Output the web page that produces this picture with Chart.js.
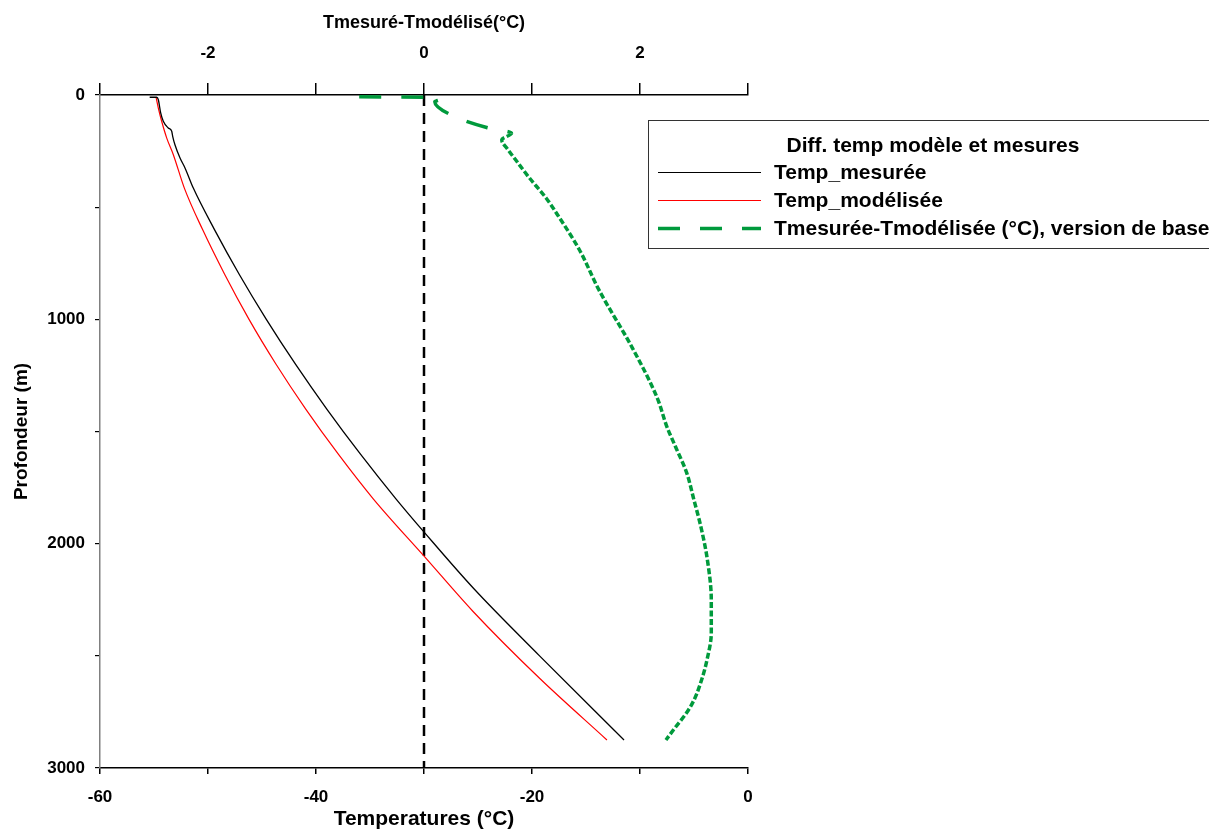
<!DOCTYPE html>
<html>
<head>
<meta charset="utf-8">
<title>Diff. temp modèle et mesures</title>
<script src="https://cdn.jsdelivr.net/npm/chart.js@4.4.1/dist/chart.umd.min.js"></script>
<style>
  html, body { margin: 0; padding: 0; background: #fff; }
  #chart1 { display: block; }
</style>
</head>
<body>
<canvas id="chart1" width="1209" height="829"></canvas>
<script>
//Temp_mesurée (depth in m, temperature in °C)
const depthMes = [10, 10, 21, 80, 117, 147, 162, 184, 222, 281, 325, 415, 600, 800, 1000, 1200, 1400, 1600, 1800, 1953, 2200, 2500, 2875]
const tempMes = [-55.4, -54.75, -54.6, -54.38, -54.14, -53.68, -53.36, -53.27, -53.06, -52.59, -52.13, -51.36, -49.4, -47.1, -44.6, -41.9, -39.0, -35.9, -32.6, -29.91, -25.4, -19.3, -11.48]

//Temp_modélisée
const depthMod = [10, 58, 117, 192, 266, 415, 600, 800, 1000, 1200, 1400, 1600, 1800, 2060, 2300, 2600, 2875]
const tempMod = [-54.81, -54.6, -54.29, -53.82, -53.21, -52.19, -50.5, -48.45, -46.2, -43.7, -40.95, -37.95, -34.7, -29.91, -25.5, -19.3, -13.06]

//Tmesurée-Tmodélisée (°C), version de base
const depthDiff = [8, 10, 19, 30, 100, 145, 170, 200, 245, 290, 366, 459, 544, 691, 869, 1128, 1351, 1480, 1569, 1681, 1806, 1917, 2060, 2251, 2398, 2519, 2608, 2697, 2755, 2817, 2875]
const diffVals = [-0.6, 0, 0.15, 0.1, 0.3, 0.58, 0.81, 0.72, 0.78, 0.85, 0.97, 1.13, 1.25, 1.44, 1.62, 1.93, 2.16, 2.25, 2.33, 2.43, 2.5, 2.56, 2.62, 2.66, 2.66, 2.62, 2.57, 2.5, 2.43, 2.33, 2.24]

//zero line of the difference axis
const zeroDepth = [0, 3000]
const zeroDiff = [0, 0]

//legend texts
const legendTitle = 'Diff. temp modèle et mesures'
const legendLabels = ['Temp_mesurée', 'Temp_modélisée', 'Tmesurée-Tmodélisée (°C), version de base']

const FONT = "'Liberation Sans', Arial, sans-serif"
const GREEN = '#009a3c'

//pair value and depth arrays into points
toPoints = function(xs, ys) {
    return xs.map((v, i) => ({x: v, y: ys[i]}))
}

//legend drawn in a box at the right of the plot
const boxLegend = {
    id: 'boxLegend',
    afterDraw(chart) {
        const ctx = chart.ctx
        ctx.save()
        ctx.strokeStyle = '#333'
        ctx.lineWidth = 1
        ctx.strokeRect(648.5, 120.5, 620, 128)

        ctx.fillStyle = '#000'
        ctx.font = 'bold 21px ' + FONT
        ctx.textBaseline = 'middle'
        ctx.textAlign = 'center'
        ctx.fillText(legendTitle, 933, 146)

        const rows = [172, 200, 228]
        const styles = [
            {color: '#000', width: 1, dash: []},
            {color: '#ff0000', width: 1, dash: []},
            {color: GREEN, width: 3.5, dash: [22, 20]}
        ]
        ctx.textAlign = 'left'
        rows.forEach((y, i) => {
            ctx.beginPath()
            ctx.setLineDash(styles[i].dash)
            ctx.strokeStyle = styles[i].color
            ctx.lineWidth = styles[i].width
            ctx.moveTo(658, y + 0.5)
            ctx.lineTo(761, y + 0.5)
            ctx.stroke()
            ctx.setLineDash([])
            ctx.fillText(legendLabels[i], 774, y + 1)
        })
        ctx.restore()
    }
}

//setup
const data = {
    datasets: [{
        label: legendLabels[0],
        data: toPoints(tempMes, depthMes),
        borderColor: '#000',
        borderWidth: 1.3,
        pointRadius: 0,
        cubicInterpolationMode: 'monotone',
        xAxisID: 'x',
        yAxisID: 'y'
    }, {
        label: legendLabels[1],
        data: toPoints(tempMod, depthMod),
        borderColor: '#ff0000',
        borderWidth: 1.2,
        pointRadius: 0,
        cubicInterpolationMode: 'monotone',
        xAxisID: 'x',
        yAxisID: 'y'
    }, {
        label: legendLabels[2],
        data: toPoints(diffVals, depthDiff),
        indexAxis: 'y',
        borderColor: GREEN,
        borderWidth: 3.5,
        borderDash: [6, 2.5],
        segment: {
            borderDash: ctx => ctx.p0DataIndex < 6 ? [22, 20] : [6, 2.5]
        },
        pointRadius: 0,
        cubicInterpolationMode: 'monotone',
        xAxisID: 'x2',
        yAxisID: 'y'
    }, {
        label: 'zero',
        data: toPoints(zeroDiff, zeroDepth),
        borderColor: '#000',
        borderWidth: 2.5,
        borderDash: [11, 7],
        pointRadius: 0,
        xAxisID: 'x2',
        yAxisID: 'y'
    }]
}

const tickFont = {family: FONT, size: 17, weight: 'bold'}

//config
const config = {
    type: 'line',
    data: data,
    options: {
        responsive: false,
        animation: false,
        layout: {padding: {left: 0, top: 0, bottom: 0, right: 461}},
        plugins: {
            legend: {display: false},
            tooltip: {enabled: false}
        },
        scales: {
            x: {
                type: 'linear',
                position: 'bottom',
                min: -60,
                max: 0,
                afterFit: s => { s.height = 61 },
                border: {color: '#000', width: 1.5},
                grid: {display: true, drawOnChartArea: false, drawTicks: true, tickLength: 6, color: '#000', lineWidth: 1.5},
                ticks: {
                    stepSize: 10,
                    autoSkip: false,
                    maxRotation: 0,
                    padding: 13,
                    color: '#000',
                    font: tickFont,
                    callback: v => v % 20 === 0 ? String(v) : ''
                },
                title: {
                    display: true,
                    text: 'Temperatures (°C)',
                    color: '#000',
                    padding: {top: 0, bottom: 0},
                    font: {family: FONT, size: 21, weight: 'bold', lineHeight: 0.9}
                }
            },
            x2: {
                type: 'linear',
                position: 'top',
                min: -3,
                max: 3,
                afterFit: s => { s.height = 95 },
                border: {color: '#000', width: 1.5},
                grid: {display: true, drawOnChartArea: false, drawTicks: true, tickLength: 12, color: '#000', lineWidth: 1.5},
                ticks: {
                    stepSize: 1,
                    autoSkip: false,
                    maxRotation: 0,
                    padding: 19,
                    color: '#000',
                    font: tickFont,
                    callback: v => v % 2 === 0 ? String(v) : ''
                },
                title: {
                    display: true,
                    text: 'Tmesuré-Tmodélisé(°C)',
                    color: '#000',
                    padding: {top: 12, bottom: 0},
                    font: {family: FONT, size: 18, weight: 'bold'}
                }
            },
            y: {
                type: 'linear',
                position: 'left',
                reverse: true,
                min: 0,
                max: 3000,
                afterFit: s => { s.width = 100 },
                border: {color: '#808080', width: 1.5},
                grid: {display: true, drawOnChartArea: false, drawTicks: true, tickLength: 5, color: '#000', lineWidth: 1.2},
                ticks: {
                    stepSize: 500,
                    autoSkip: false,
                    padding: 10,
                    color: '#000',
                    font: tickFont,
                    callback: v => v % 1000 === 0 ? String(v) : ''
                },
                title: {
                    display: true,
                    text: 'Profondeur (m)',
                    color: '#000',
                    padding: {top: 10, bottom: 0},
                    font: {family: FONT, size: 19, weight: 'bold'}
                }
            }
        }
    },
    plugins: [boxLegend]
}

//render
const Chart1 = new Chart(
    document.getElementById('chart1'),
    config
)
</script>
</body>
</html>
